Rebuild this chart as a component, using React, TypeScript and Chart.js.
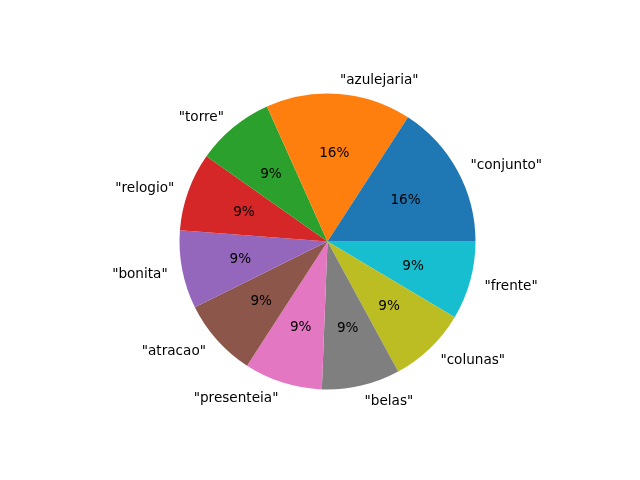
import React, { useEffect, useRef } from "react";
import { Chart, registerables } from "chart.js";

Chart.register(...registerables);

const categories = [
  '"conjunto"',
  '"azulejaria"',
  '"torre"',
  '"relogio"',
  '"bonita"',
  '"atracao"',
  '"presenteia"',
  '"belas"',
  '"colunas"',
  '"frente"',
];
const values = [13, 13, 7, 7, 7, 7, 7, 7, 7, 7];
const colors = [
  "#1f77b4",
  "#ff7f0e",
  "#2ca02c",
  "#d62728",
  "#9467bd",
  "#8c564b",
  "#e377c2",
  "#7f7f7f",
  "#bcbd22",
  "#17becf",
];

const FONT = '13.6px "DejaVu Sans", sans-serif';

const labelPlugin = {
  id: "mplPieLabels",
  afterDatasetsDraw(chart: any) {
    const ctx = chart.ctx;
    const meta = chart.getDatasetMeta(0);
    const data: number[] = chart.data.datasets[0].data;
    const labels: string[] = chart.data.labels;
    const total = data.reduce((a, b) => a + b, 0);
    ctx.save();
    ctx.font = FONT;
    ctx.fillStyle = "#000000";
    meta.data.forEach((arc: any, i: number) => {
      const p = arc.getProps(["x", "y", "startAngle", "endAngle", "outerRadius"], true);
      const mid = (p.startAngle + p.endAngle) / 2;
      const c = Math.cos(mid);
      const s = Math.sin(mid);
      const pct = Math.round((data[i] / total) * 100) + "%";
      ctx.textAlign = "center";
      ctx.textBaseline = "middle";
      ctx.fillText(pct, p.x + c * p.outerRadius * 0.6, p.y + s * p.outerRadius * 0.6 + 1);
      ctx.textAlign = c >= 0 ? "left" : "right";
      ctx.fillText(labels[i], p.x + c * p.outerRadius * 1.1, p.y + s * p.outerRadius * 1.1 + 1.5);
    });
    ctx.restore();
  },
};

export default function App() {
  const ref = useRef<HTMLCanvasElement>(null);
  useEffect(() => {
    if (!ref.current) return;
    // matplotlib draws counter-clockwise from 3 o'clock; Chart.js draws clockwise,
    // so feed the slices in reverse order starting at 3 o'clock.
    const labels = [...categories].reverse();
    const data = [...values].reverse();
    const bg = [...colors].reverse();
    const chart = new Chart(ref.current, {
      type: "pie",
      data: {
        labels,
        datasets: [
          {
            data,
            backgroundColor: bg,
            borderWidth: 0,
          },
        ],
      },
      options: {
        animation: false,
        responsive: false,
        maintainAspectRatio: false,
        rotation: 90,
        layout: {
          padding: { left: 179.5, right: 164.5, top: 93.5, bottom: 90.5 },
        },
        plugins: {
          legend: { display: false },
          tooltip: { enabled: false },
        },
      },
      plugins: [labelPlugin],
    });
    return () => chart.destroy();
  }, []);
  return (
    <div style={{ position: "fixed", left: 0, top: 0, width: 640, height: 480, background: "#ffffff" }}>
      <canvas ref={ref} width={640} height={480} style={{ width: 640, height: 480 }} />
    </div>
  );
}
